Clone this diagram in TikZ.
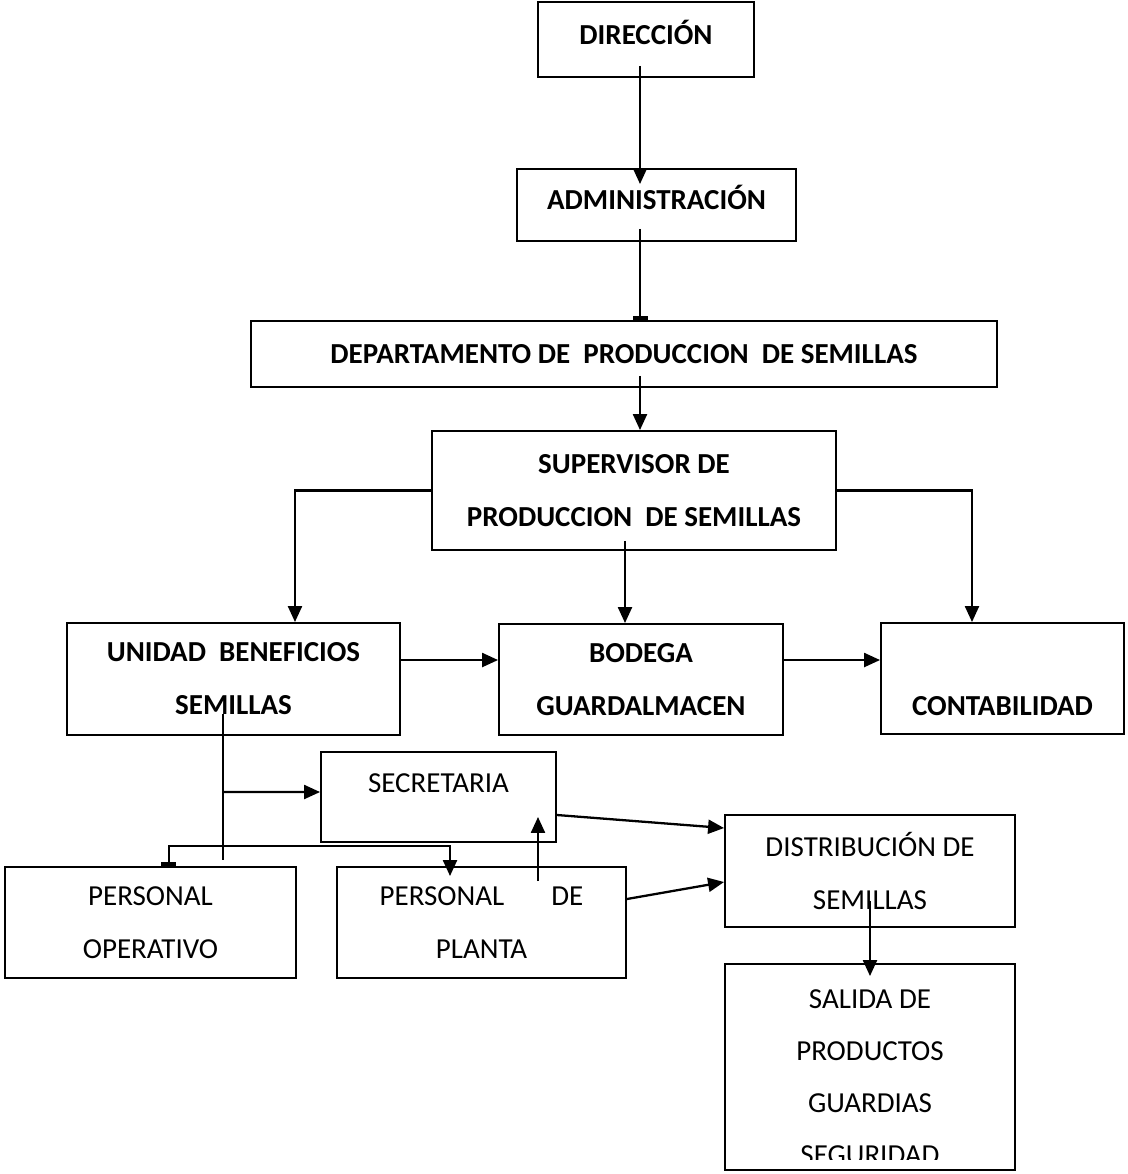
\documentclass[tikz,border=0pt]{standalone}
\usepackage{fontspec}
\setmainfont{Carlito}
\usetikzlibrary{arrows.meta}

\tikzset{
  box/.style={draw, line width=1.1pt, inner sep=0pt, align=center, font=\fontsize{16.5}{30.2}\selectfont},
  bbox/.style={box, font=\fontsize{16.5}{30.2}\selectfont\bfseries},
  line/.style={line width=1.3pt},
  arr/.style={line, -{Triangle[length=0.32cm,width=0.28cm]}},
  bar/.style={line, -{Rectangle[length=0.08cm,width=0.3cm]}},
}

\begin{document}
\begin{tikzpicture}[x=0.02cm, y=-0.02cm]
\useasboundingbox (0,0) rectangle (1128,1174);
\node[bbox, minimum width=4.32cm, minimum height=1.5cm, text depth=0.3cm] (dir) at (646,39.5) {DIRECCIÓN};
\node[bbox, minimum width=5.58cm, minimum height=1.44cm, text depth=0.3cm] (adm) at (656.5,205) {ADMINISTRACIÓN};
\node[bbox, minimum width=14.92cm, minimum height=1.32cm] (dep) at (624,354) {DEPARTAMENTO DE\ \ PRODUCCION\ \ DE SEMILLAS};
\node[bbox, minimum width=8.08cm, minimum height=2.38cm] (sup) at (634,490.5) {SUPERVISOR DE\\PRODUCCION\ \ DE SEMILLAS};
\node[bbox, minimum width=6.66cm, minimum height=2.24cm] (uni) at (233.5,679) {UNIDAD\ \ BENEFICIOS\\SEMILLAS};
\node[bbox, minimum width=5.68cm, minimum height=2.22cm] (bod) at (641,679.5) {BODEGA\\GUARDALMACEN};
\node[bbox, minimum width=4.86cm, minimum height=2.22cm, text height=1.47cm] (con) at (1002.5,678.5) {CONTABILIDAD};
\node[box, minimum width=4.7cm, minimum height=1.8cm, text depth=0.56cm] (sec) at (438.5,797) {SECRETARIA};
\node[box, minimum width=5.8cm, minimum height=2.24cm] (dis) at (870,871) {DISTRIBUCIÓN DE\\SEMILLAS};
\node[box, minimum width=5.82cm, minimum height=2.22cm] (opr) at (150.5,922.5) {PERSONAL\\OPERATIVO};
\node[box, minimum width=5.78cm, minimum height=2.22cm] (pla) at (481.5,922.5) {PERSONAL\hspace{0.94cm}DE\\PLANTA};
\node[box, minimum width=5.8cm, minimum height=4.12cm, path picture={
  \clip ([yshift=0.2cm]path picture bounding box.south west) rectangle (path picture bounding box.north east);
  \node[align=center, font=\fontsize{16.5}{29.6}\selectfont] at ([yshift=-0.21cm]path picture bounding box.center) {SALIDA DE\\PRODUCTOS\\GUARDIAS\\SEGURIDAD};
}] (sal) at (870,1067) {};

\draw[arr, shorten >=-0.32cm] ([xshift=-0.12cm,yshift=0.24cm]dir.south) -- ([xshift=-0.12cm]dir.south |- adm.north);
\draw[bar] ([xshift=-0.33cm,yshift=0.26cm]adm.south) -- ([xshift=-0.33cm]adm.south |- dep.north);
\draw[arr] ([xshift=0.32cm,yshift=0.24cm]dep.south) -- ([xshift=0.32cm]dep.south |- sup.north);
\draw[arr] (sup.west) -| ([xshift=1.23cm]uni.north);
\draw[arr] ([xshift=-0.18cm,yshift=0.2cm]sup.south) -- ([xshift=-0.18cm]sup.south |- bod.north);
\draw[arr] (sup.east) -| ([xshift=-0.61cm]con.north);
\draw[arr] ([yshift=0.38cm]uni.east) -- ([yshift=0.38cm]uni.east -| bod.west);
\draw[arr] ([yshift=0.39cm]bod.east) -- ([yshift=0.39cm]bod.east -| con.west);

\coordinate (tt) at ([xshift=-0.21cm,yshift=0.44cm]uni.south);
\coordinate (tb) at ([yshift=0.12cm]tt |- opr.north);
\coordinate (tj) at ([yshift=0.4cm]tt |- opr.north);
\draw[line] (tt) -- (tb);
\draw[arr] (tt |- 0,792) -- ([yshift=0.1cm]sec.west);
\draw[bar] (tj) -| ([xshift=0.37cm]opr.north);
\draw[arr, shorten >=-0.2cm] (tj) -| ([xshift=-0.63cm]pla.north);
\draw[arr] ([xshift=1.13cm,yshift=-0.3cm]pla.north) coordinate (up) -- ([yshift=0.52cm]up |- sec.south);
\draw[arr] ([yshift=-0.36cm]sec.east) -- ([yshift=0.86cm]dis.west);
\draw[arr] ([yshift=0.47cm]pla.east) -- ([yshift=-0.22cm]dis.west);
\draw[arr, shorten >=-0.26cm] ([yshift=0.54cm]dis.south) -- (sal.north);
\end{tikzpicture}
\end{document}
